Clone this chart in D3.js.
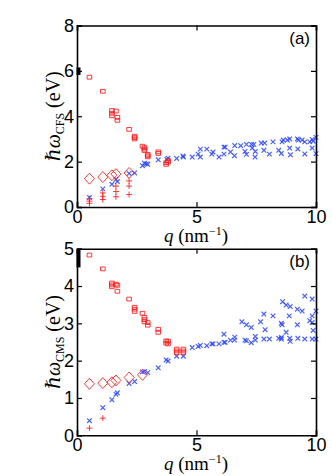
<!DOCTYPE html>
<html>
<head>
<meta charset="utf-8">
<title>dispersion</title>
<script src="https://cdn.jsdelivr.net/npm/d3@7/dist/d3.min.js"></script>
<style>
  body { margin: 0; background: #fff; }
  .axis text { font-family: "Liberation Sans", Arial, sans-serif; font-size: 18px; fill: #000; }
  .lab { font-family: "Liberation Serif", "DejaVu Serif", serif; fill: #000; }
</style>
</head>
<body>
<script>
// ---- data: [q (nm^-1), energy (eV)] ----
var xTicks = [0, 5, 10];
var yTicksA = [0, 2, 4, 6, 8];
var yTicksB = [0, 1, 2, 3, 4, 5];

// panel (a) CFS
var sqA = [[0.52,5.72],[1.08,5.1],[1.46,4.25],[1.46,4.13],[1.46,4.02],[1.63,4.23],[1.69,3.95],[1.69,3.82],
  [2.18,3.42],[2.41,3.12],[2.41,3.06],[2.41,3.0],[2.74,2.68],[2.82,2.62],[2.82,2.55],[2.82,2.49],
  [2.96,2.32],[2.96,2.26],[2.96,2.21],[3.40,2.43],[3.40,2.36],[3.73,1.95],[3.73,1.88],[3.81,2.05],[3.81,1.98]];
var diaA = [[0.52,1.25],[1.08,1.32],[1.46,1.40],[1.63,1.45],[2.18,1.50]];
var plusA = [[0.52,0.36],[0.52,0.26],[0.52,0.16],[1.08,0.62],[1.08,0.47],[1.08,0.33],
  [1.63,0.92],[1.63,0.68],[1.63,0.45],[2.18,1.15],[2.18,0.92],[2.18,0.55]];
var crossA = [[0.52,0.42],[1.08,0.8],[1.46,1.0],[1.63,1.22],[1.69,1.12],[2.18,1.48],[2.41,1.5],[2.74,1.82],
  [2.82,1.93],[2.90,1.90],[2.96,1.88],[3.40,2.08],[3.76,2.1],[3.81,2.15],[4.17,2.14],[4.43,2.25],[4.45,2.2],
  [4.82,2.2],[5.07,2.33],[5.16,2.55],[5.16,2.2],[5.43,2.55],[5.64,2.33],[5.69,2.42],[5.94,2.2],[6.15,2.64],
  [6.2,2.64],[6.15,2.33],[6.42,2.42],[6.59,2.26],[6.6,2.71],[6.85,2.7],[7.03,2.45],[7.09,2.76],[7.09,2.32],
  [7.3,2.76],[7.4,2.76],[7.33,2.6],[7.46,2.45],[7.45,2.2],[7.71,2.82],[7.85,2.82],[7.82,2.5],[8.05,2.33],
  [8.2,2.87],[8.44,2.5],[8.55,2.36],[8.58,2.87],[8.63,2.95],[8.8,2.95],[8.9,3.0],[8.9,2.6],[8.93,2.3],
  [9.22,3.0],[9.27,2.95],[9.24,2.56],[9.42,2.95],[9.53,2.87],[9.53,2.34],[9.74,2.87],[9.84,2.98],[9.88,2.9],
  [9.84,2.6],[10.0,3.07],[10.0,2.35]];
var barA = [[0, 5.82], [0, 6.15]];

// panel (b) CMS
var sqB = [[0.52,4.83],[1.08,4.46],[1.46,4.08],[1.46,4.03],[1.46,3.98],[1.63,4.05],[1.69,4.02],[1.69,3.86],
  [2.18,3.65],[2.41,3.43],[2.41,3.38],[2.41,3.32],[2.74,3.27],[2.82,3.16],[2.82,3.1],[2.82,3.04],
  [2.96,3.02],[2.96,2.95],[3.40,2.84],[3.40,2.76],[3.73,2.53],[3.73,2.47],[3.81,2.52],[3.81,2.45],
  [4.17,2.31],[4.17,2.26],[4.17,2.21],[4.45,2.31],[4.45,2.26],[4.45,2.21]];
var diaB = [[0.52,1.38],[1.08,1.40],[1.46,1.42],[1.63,1.47],[2.18,1.55],[2.74,1.62]];
var plusB = [[0.52,0.19],[1.08,0.46]];
var crossB = [[0.52,0.39],[1.08,0.74],[1.46,0.95],[1.63,1.1],[1.69,1.14],[2.18,1.39],[2.41,1.44],[2.74,1.70],
  [2.82,1.71],[2.96,1.68],[3.40,1.81],[3.73,2.02],[3.81,1.99],[4.17,2.12],[4.45,2.12],[4.82,2.35],[5.07,2.38],
  [5.16,2.41],[5.43,2.40],[5.64,2.45],[5.69,2.45],[5.94,2.45],[6.15,2.49],[6.2,2.49],[6.15,2.71],[6.42,2.55],
  [6.59,2.55],[6.6,2.63],[6.9,3.04],[7.09,2.96],[7.29,2.89],[7.03,2.55],[7.09,2.53],[7.29,2.48],[7.46,2.65],
  [7.46,2.55],[7.68,3.04],[7.82,3.25],[7.87,2.83],[7.82,2.58],[8.05,2.58],[8.2,3.2],[8.44,2.6],[8.55,3.0],
  [8.58,2.96],[8.6,3.58],[8.55,2.58],[8.55,2.62],[8.75,3.49],[8.92,3.45],[8.75,2.76],[8.88,3.2],[8.9,2.6],
  [8.92,2.52],[9.22,3.38],[9.22,2.96],[9.24,2.6],[9.42,3.33],[9.53,3.73],[9.53,2.58],[9.74,3.07],[9.84,3.02],
  [9.84,3.2],[9.84,3.65],[9.88,2.81],[9.84,2.58],[10.0,2.58],[10.0,3.33]];
var barB = [[0, 4.5], [0, 4.98]];

var W = 332, H = 476;
var svg = d3.select('body').append('svg').attr('width', W).attr('height', H);

var red = '#ff1a1a', blue = '#2a45ff';
var paths = {
  sq: 'M-2.3,-1.9H2.3V1.9H-2.3Z',
  dia: 'M0,-5.5L5,0L0,5.5L-5,0Z',
  plus: 'M-3,0H3M0,-3V3',
  cross: 'M-2.3,-2.3L2.3,2.3M-2.3,2.3L2.3,-2.3'
};

function panel(opt) {
  var x = d3.scaleLinear().domain([0, 10]).range([77, 316]);
  var y = d3.scaleLinear().domain([0, opt.ymax]).range([opt.y0, opt.y1]);
  var g = svg.append('g');

  function pts(data, shape, color, sw) {
    g.append('g').selectAll('path').data(data).enter().append('path')
      .attr('transform', function(d) { return 'translate(' + x(d[0]) + ',' + y(d[1]) + ')'; })
      .attr('d', paths[shape])
      .attr('fill', 'none').attr('stroke', color).attr('stroke-width', sw)
      .attr('stroke-opacity', 0.85);
  }
  pts(opt.cross, 'cross', blue, 1.2);
  pts(opt.sq, 'sq', red, 1);
  pts(opt.dia, 'dia', red, 1);
  pts(opt.plus, 'plus', red, 1);

  g.append('path').datum(opt.bar)
    .attr('d', d3.line().x(function(d) { return x(d[0]) + 1.5; }).y(function(d) { return y(d[1]); }))
    .attr('stroke', '#000').attr('stroke-width', 4);

  // axes, matlab style box with inward ticks
  var tl = -5;
  g.append('g').attr('class', 'axis').attr('transform', 'translate(0,' + opt.y0 + ')')
    .call(d3.axisBottom(x).tickValues(xTicks).tickSize(tl).tickPadding(3).tickFormat(d3.format('d')));
  g.append('g').attr('class', 'axis').attr('transform', 'translate(0,' + opt.y1 + ')')
    .call(d3.axisTop(x).tickValues(xTicks).tickSize(tl).tickFormat(''));
  g.append('g').attr('class', 'axis').attr('transform', 'translate(77,0)')
    .call(d3.axisLeft(y).tickValues(opt.yTicks).tickSize(tl).tickPadding(3).tickFormat(d3.format('d')));
  g.append('g').attr('class', 'axis').attr('transform', 'translate(316,0)')
    .call(d3.axisRight(y).tickValues(opt.yTicks).tickSize(tl).tickFormat(''));
  g.selectAll('.axis path.domain').attr('stroke', '#000').attr('stroke-width', 1.6);
  g.selectAll('.axis line').attr('stroke', '#000').attr('stroke-width', 1.2);

  // panel tag
  g.append('text').attr('class', 'lab').attr('x', 310).attr('y', opt.y1 + 18)
    .attr('text-anchor', 'end').style('font-family', '"Liberation Sans", Arial, sans-serif')
    .style('font-size', '17px').text(opt.tag);

  // x label
  var xl = g.append('text').attr('class', 'lab').attr('x', 196).attr('y', opt.y0 + 35)
    .attr('text-anchor', 'middle').style('font-size', '19px');
  xl.append('tspan').style('font-style', 'italic').text('q');
  xl.append('tspan').text(' (nm');
  xl.append('tspan').attr('dy', -7).style('font-size', '12px').text('\u22121');
  xl.append('tspan').attr('dy', 7).text(')');

  // y label
  var yl = g.append('text').attr('class', 'lab')
    .attr('transform', 'translate(60,' + ((opt.y0 + opt.y1) / 2) + ') rotate(-90)')
    .attr('text-anchor', 'middle').style('font-size', '20px');
  yl.append('tspan').style('font-style', 'italic').text('\u210F\u03C9');
  yl.append('tspan').attr('dy', 4).style('font-size', '12px').text(opt.sub);
  yl.append('tspan').attr('dy', -4).text(' (eV)');
}

panel({ ymax: 8, y0: 207, y1: 25.5, yTicks: yTicksA, sq: sqA, dia: diaA, plus: plusA, cross: crossA,
  bar: barA, tag: '(a)', sub: 'CFS' });
panel({ ymax: 5, y0: 435.3, y1: 248.7, yTicks: yTicksB, sq: sqB, dia: diaB, plus: plusB, cross: crossB,
  bar: barB, tag: '(b)', sub: 'CMS' });
</script>
</body>
</html>
